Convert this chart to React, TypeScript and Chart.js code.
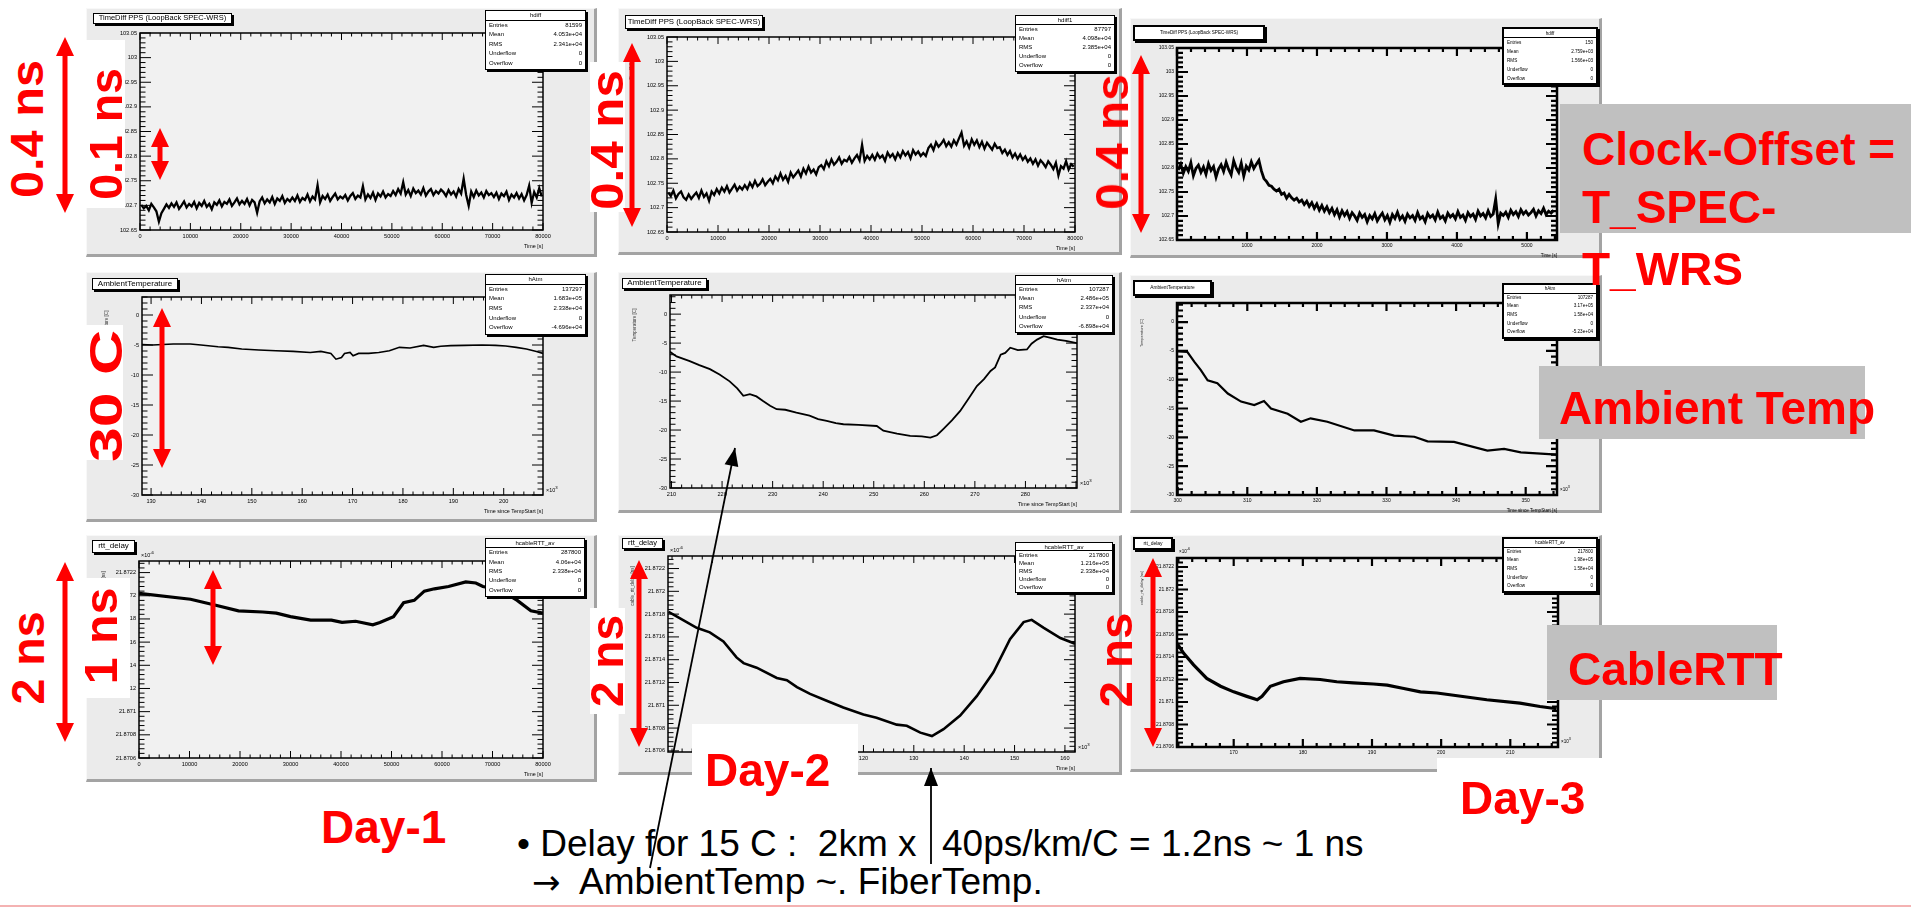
import React, { useEffect, useRef } from "react";
import { Chart, registerables } from "chart.js";

Chart.register(...registerables);

const FONT = "'Liberation Sans', Arial, Helvetica, sans-serif";
Chart.defaults.font.family = FONT;
Chart.defaults.color = "#000";

// ---------------- DATA ----------------
// Row 1 : TimeDiff PPS (LoopBack SPEC-WRS) [ns], histogram bins
const DAY1_DIFF_BIN_S = 500;
const DAY1_DIFF_NS = [
  102.701, 102.694, 102.699, 102.690, 102.703, 102.696, 102.688, 102.667, 102.684, 102.693,
  102.702, 102.695, 102.704, 102.697, 102.706, 102.693, 102.700, 102.708, 102.696, 102.703,
  102.698, 102.707, 102.694, 102.705, 102.699, 102.709, 102.697, 102.703, 102.692, 102.706,
  102.701, 102.710, 102.698, 102.707, 102.703, 102.712, 102.699, 102.706, 102.714, 102.702,
  102.709, 102.703, 102.713, 102.700, 102.711, 102.706, 102.685, 102.708, 102.716, 102.704,
  102.712, 102.706, 102.717, 102.703, 102.714, 102.709, 102.719, 102.705, 102.713, 102.708,
  102.716, 102.709, 102.720, 102.707, 102.715, 102.711, 102.722, 102.708, 102.718, 102.712,
  102.741, 102.706, 102.719, 102.713, 102.722, 102.709, 102.717, 102.724, 102.712, 102.718,
  102.714, 102.721, 102.710, 102.719, 102.725, 102.713, 102.720, 102.716, 102.739, 102.712,
  102.722, 102.715, 102.726, 102.711, 102.724, 102.718, 102.728, 102.716, 102.723, 102.719,
  102.729, 102.721, 102.733, 102.724, 102.747, 102.722, 102.731, 102.719, 102.734, 102.725,
  102.730, 102.722, 102.735, 102.720, 102.728, 102.733, 102.721, 102.729, 102.724, 102.732,
  102.727, 102.719, 102.731, 102.722, 102.728, 102.718, 102.733, 102.724, 102.754, 102.721,
  102.699, 102.728, 102.717, 102.730, 102.720, 102.726, 102.716, 102.729, 102.721, 102.725,
  102.717, 102.726, 102.713, 102.724, 102.719, 102.728, 102.711, 102.722, 102.716, 102.725,
  102.714, 102.723, 102.710, 102.721, 102.740, 102.705, 102.727, 102.716, 102.735, 102.718,
];

const DAY2_DIFF_BIN_S = 500;
const DAY2_DIFF_NS = [
  102.731, 102.724, 102.735, 102.719, 102.728, 102.733, 102.721, 102.716, 102.727, 102.718,
  102.725, 102.731, 102.720, 102.735, 102.722, 102.729, 102.714, 102.733, 102.726, 102.738,
  102.729, 102.741, 102.733, 102.744, 102.731, 102.739, 102.747, 102.735, 102.743, 102.737,
  102.746, 102.738, 102.751, 102.742, 102.755, 102.744, 102.749, 102.758, 102.746, 102.753,
  102.759, 102.750, 102.764, 102.756, 102.770, 102.757, 102.765, 102.753, 102.772, 102.762,
  102.769, 102.776, 102.764, 102.780, 102.770, 102.784, 102.772, 102.778, 102.768, 102.783,
  102.787, 102.779, 102.795, 102.785, 102.799, 102.788, 102.794, 102.803, 102.790, 102.798,
  102.795, 102.804, 102.792, 102.801, 102.808, 102.797, 102.829, 102.796, 102.806, 102.799,
  102.808, 102.798, 102.811, 102.802, 102.807, 102.796, 102.813, 102.804, 102.810, 102.799,
  102.812, 102.803, 102.816, 102.807, 102.814, 102.801, 102.818, 102.809, 102.815, 102.806,
  102.812, 102.806, 102.822, 102.829, 102.818, 102.834, 102.825, 102.831, 102.839, 102.826,
  102.834, 102.825, 102.838, 102.829, 102.842, 102.854, 102.827, 102.836, 102.823, 102.840,
  102.829, 102.838, 102.824, 102.835, 102.821, 102.833, 102.826, 102.819, 102.831, 102.822,
  102.824, 102.812, 102.819, 102.808, 102.816, 102.803, 102.811, 102.800, 102.809, 102.798,
  102.805, 102.794, 102.801, 102.790, 102.799, 102.786, 102.797, 102.791, 102.783, 102.795,
  102.788, 102.779, 102.792, 102.766, 102.785, 102.780, 102.795, 102.778, 102.789, 102.784,
];

const DAY3_DIFF_BIN_S = 36;
const DAY3_DIFF_NS = [
  102.796, 102.808, 102.789, 102.803, 102.793, 102.811, 102.784, 102.799, 102.806, 102.791,
  102.802, 102.787, 102.809, 102.795, 102.803, 102.781, 102.798, 102.807, 102.793, 102.812,
  102.797, 102.786, 102.815, 102.800, 102.791, 102.810, 102.783, 102.804, 102.796, 102.813,
  102.799, 102.808, 102.816, 102.794, 102.778, 102.772, 102.764, 102.762, 102.756, 102.752,
  102.756, 102.745, 102.748, 102.737, 102.745, 102.738, 102.733, 102.737, 102.729, 102.733,
  102.724, 102.731, 102.720, 102.728, 102.716, 102.725, 102.712, 102.722, 102.710, 102.719,
  102.707, 102.716, 102.703, 102.713, 102.698, 102.711, 102.701, 102.709, 102.695, 102.707,
  102.700, 102.691, 102.706, 102.697, 102.703, 102.688, 102.701, 102.694, 102.705, 102.690,
  102.699, 102.706, 102.692, 102.701, 102.687, 102.703, 102.695, 102.708, 102.693, 102.700,
  102.689, 102.704, 102.696, 102.701, 102.691, 102.707, 102.694, 102.699, 102.688, 102.705,
  102.697, 102.702, 102.692, 102.708, 102.695, 102.700, 102.690, 102.706, 102.698, 102.703,
  102.694, 102.709, 102.697, 102.702, 102.691, 102.707, 102.699, 102.704, 102.693, 102.710,
  102.700, 102.705, 102.696, 102.711, 102.699, 102.704, 102.735, 102.684, 102.706, 102.701,
  102.708, 102.697, 102.712, 102.703, 102.709, 102.699, 102.713, 102.704, 102.710, 102.702,
  102.707, 102.714, 102.700, 102.711, 102.705, 102.716, 102.703, 102.710, 102.706, 102.712,
];

// Row 2 : Ambient temperature [C] vs time since TempStart [x10^3 s]
const DAY1_TEMP_T = [
  128.2, 130.3, 134.4, 137.8, 139.9, 143.3, 145.3, 148.0, 151.4, 154.8, 158.2, 161.6, 163.7,
  165.7, 166.7, 167.8, 168.4, 169.5, 170.1, 171.2, 173.2, 175.2, 177.3, 179.3, 181.4, 184.1,
  186.1, 187.5, 189.5, 192.2, 195.7, 198.4, 200.4, 202.5, 204.5, 206.5, 207.8,
];
const DAY1_TEMP_C = [
  -4.94, -5.0, -4.83, -4.83, -5.0, -5.28, -5.39, -5.67, -5.84, -5.96, -6.07, -6.24, -6.07,
  -6.4, -7.36, -7.08, -6.4, -6.24, -6.8, -6.4, -6.4, -6.24, -5.96, -5.39, -5.51, -5.06,
  -5.39, -5.22, -5.11, -5.06, -5.0, -5.06, -5.17, -5.39, -5.67, -6.07, -6.4,
];

const DAY2_TEMP_T = [
  209.7, 211, 213.6, 215.5, 217.6, 219.5, 221.5, 223, 224.2, 225.5, 226.8, 228.1, 229.5, 230.8,
  232.5, 234.7, 237.3, 239, 240.7, 242.5, 244, 247, 250.6, 251.9, 253, 254.6, 257.2, 259.5,
  261.2, 262.5, 263.8, 265.5, 267.1, 268.8, 270.4, 271.8, 273.1, 274, 275.1, 276, 277, 278.5,
  280.3, 281.2, 282.3, 283.6, 285, 286.3, 288, 290.2,
];
const DAY2_TEMP_C = [
  -6.5, -7.3, -8.1, -8.8, -9.5, -10.4, -11.6, -12.8, -14.1, -13.8, -14.2, -15, -15.8, -16.4,
  -16.5, -17, -17.5, -18.1, -18.4, -18.8, -19, -19.1, -19.3, -20.1, -20.3, -20.6, -21, -21.1,
  -21.3, -20.9, -19.8, -18.3, -16.7, -14.5, -12.4, -11.2, -9.8, -9.2, -7, -6.7, -5.8, -6.2,
  -6.1, -5.1, -4.4, -3.8, -4.1, -4.4, -4.6, -5,
];

const DAY3_TEMP_T = [
  300.0, 301.4, 302.4, 303.3, 304.3, 305.7, 307.2, 309.1, 311.0, 312.4, 313.4, 315.8, 317.7,
  319.1, 321.5, 325.4, 328.2, 331.1, 334.0, 335.9, 339.7, 344.5, 346.9, 349.3, 354.5,
];
const DAY3_TEMP_C = [
  -5.1, -5.2, -6.9, -8.3, -10.1, -10.6, -12.4, -13.8, -14.4, -13.7, -15.0, -15.9, -17.3,
  -16.7, -17.3, -18.8, -18.8, -19.7, -19.9, -20.7, -20.8, -22.3, -22.0, -22.6, -23.0,
];

// Row 3 : rtt_delay (cable round trip) [ns]
const DAY1_RTT_T = [
  0, 10200, 15000, 19700, 24500, 27200, 30000, 34000, 38100, 40200, 42900, 46300, 47700,
  50400, 52400, 54500, 56500, 58500, 61300, 64700, 66700, 68100, 71500, 74900, 77600, 80000,
];
const DAY1_RTT_NS = [
  21.87202, 21.87197, 21.87192, 21.87187, 21.87186, 21.87185, 21.87182, 21.87179, 21.87179,
  21.87177, 21.87178, 21.87175, 21.87177, 21.87182, 21.87194, 21.87196, 21.87204, 21.87206,
  21.87208, 21.87212, 21.87211, 21.87208, 21.87205, 21.87196, 21.87187, 21.87185,
];

const DAY2_RTT_T = [
  81.3, 82.9, 86.9, 89.5, 92.2, 94.8, 96.2, 98.8, 102.8, 104.8, 106.8, 109.4, 112.7, 116.0,
  120.0, 122.6, 126.6, 128.6, 131.3, 133.6, 135.9, 139.2, 142.5, 145.8, 149.1, 151.8, 153.4,
  155.8, 159.1, 162.0,
];
const DAY2_RTT_NS = [
  21.87182, 21.87178, 21.87168, 21.87164, 21.87156, 21.87142, 21.87137, 21.87133, 21.87124,
  21.87122, 21.87116, 21.8711, 21.87104, 21.87098, 21.87092, 21.87089, 21.87083, 21.87082,
  21.87076, 21.87073, 21.87079, 21.87091, 21.87108, 21.87129, 21.87158, 21.87173, 21.87175,
  21.87168, 21.87159, 21.87154,
];

const DAY3_RTT_T = [
  161.8, 162.8, 164.2, 166.1, 168.1, 170.0, 171.9, 173.4, 174.1, 175.3, 177.2, 179.6, 182.5,
  184.9, 187.3, 190.2, 192.2, 194.6, 197.0, 199.4, 201.8, 206.6, 211.4, 214.3, 216.7,
];
const DAY3_RTT_NS = [
  21.87152, 21.87143, 21.87133, 21.87121, 21.87114, 21.87109, 21.87105, 21.87102, 21.87105,
  21.87114, 21.87118, 21.87121, 21.8712, 21.87118, 21.87117, 21.87116, 21.87115, 21.87112,
  21.87109, 21.87108, 21.87106, 21.87102, 21.87099, 21.87096, 21.87094,
];

// Tick values / labels
const TIME80K_TICKS = [0, 10000, 20000, 30000, 40000, 50000, 60000, 70000, 80000];
const TIME80K_LABELS = ["0", "10000", "20000", "30000", "40000", "50000", "60000", "70000", "80000"];
const DAY3_DIFF_T_TICKS = [1000, 2000, 3000, 4000, 5000];
const DAY3_DIFF_T_LABELS = ["1000", "2000", "3000", "4000", "5000"];
const DIFF_TICKS = [102.65, 102.7, 102.75, 102.8, 102.85, 102.9, 102.95, 103, 103.05];
const DIFF_LABELS = ["102.65", "102.7", "102.75", "102.8", "102.85", "102.9", "102.95", "103", "103.05"];
const TEMP_TICKS = [-30, -25, -20, -15, -10, -5, 0];
const TEMP_LABELS = ["-30", "-25", "-20", "-15", "-10", "-5", "0"];
const DAY1_TEMP_T_TICKS = [130, 140, 150, 160, 170, 180, 190, 200];
const DAY1_TEMP_T_LABELS = ["130", "140", "150", "160", "170", "180", "190", "200"];
const DAY2_TEMP_T_TICKS = [210, 220, 230, 240, 250, 260, 270, 280];
const DAY2_TEMP_T_LABELS = ["210", "220", "230", "240", "250", "260", "270", "280"];
const DAY3_TEMP_T_TICKS = [300, 310, 320, 330, 340, 350];
const DAY3_TEMP_T_LABELS = ["300", "310", "320", "330", "340", "350"];
const RTT_TICKS = [21.8706, 21.8708, 21.871, 21.8712, 21.8714, 21.8716, 21.8718, 21.872, 21.8722];
const RTT_LABELS = ["21.8706", "21.8708", "21.871", "21.8712", "21.8714", "21.8716", "21.8718", "21.872", "21.8722"];
const DAY2_RTT_T_TICKS = [90, 100, 110, 120, 130, 140, 150, 160];
const DAY2_RTT_T_LABELS = ["90", "100", "110", "120", "130", "140", "150", "160"];
const DAY3_RTT_T_TICKS = [170, 180, 190, 200, 210];
const DAY3_RTT_T_LABELS = ["170", "180", "190", "200", "210"];

const STAT_ROWS = ["Entries", "Mean", "RMS", "Underflow", "Overflow"];

// ---------------- helpers ----------------
type Pt = { x: number; y: number };
const binPoints = (vals: number[], bin: number): Pt[] => vals.map((v, i) => ({ x: (i + 0.5) * bin, y: v }));
const pairPoints = (ts: number[], vs: number[]): Pt[] => ts.map((t, i) => ({ x: t, y: vs[i] }));

type Box = { x: number; y: number; w: number; h: number };
type Panel = {
  key: string;
  frame: Box;
  plot: { l: number; t: number; r: number; b: number };
  points: Pt[];
  xMin: number; xMax: number; yMin: number; yMax: number;
  xTicks: number[]; xLabels: string[]; yTicks: number[]; yLabels: string[];
  lw: number; heavy: boolean;
  title: string; titleBox: Box & { fs: number };
  stats: Box & { name: string; values: string[] };
  xTitle: string; xExp: boolean; yExp: boolean; yTitle: string;
};

const PANELS: Panel[] = [
  {
    key: "p1", frame: { x: 86, y: 8, w: 511, h: 249 }, plot: { l: 140, t: 33, r: 543, b: 230 },
    points: binPoints(DAY1_DIFF_NS, DAY1_DIFF_BIN_S),
    xMin: 0, xMax: 80000, yMin: 102.65, yMax: 103.05,
    xTicks: TIME80K_TICKS, xLabels: TIME80K_LABELS, yTicks: DIFF_TICKS, yLabels: DIFF_LABELS,
    lw: 2.3, heavy: false,
    title: "TimeDiff PPS (LoopBack SPEC-WRS)", titleBox: { x: 93, y: 13, w: 139, h: 11, fs: 7.5 },
    stats: { x: 485, y: 10, w: 101, h: 60, name: "hdiff", values: ["81599", "4.053e+04", "2.341e+04", "0", "0"] },
    xTitle: "Time [s]", xExp: false, yExp: false, yTitle: "TimeDiff [ns]",
  },
  {
    key: "p2", frame: { x: 618, y: 8, w: 504, h: 247 }, plot: { l: 667, t: 37, r: 1075, b: 232 },
    points: binPoints(DAY2_DIFF_NS, DAY2_DIFF_BIN_S),
    xMin: 0, xMax: 80000, yMin: 102.65, yMax: 103.05,
    xTicks: TIME80K_TICKS, xLabels: TIME80K_LABELS, yTicks: DIFF_TICKS, yLabels: DIFF_LABELS,
    lw: 2.3, heavy: false,
    title: "TimeDiff PPS (LoopBack SPEC-WRS)", titleBox: { x: 625, y: 15, w: 138, h: 14, fs: 7.8 },
    stats: { x: 1015, y: 15, w: 100, h: 57, name: "hdiff1", values: ["87797", "4.098e+04", "2.385e+04", "0", "0"] },
    xTitle: "Time [s]", xExp: false, yExp: false, yTitle: "TimeDiff [ns]",
  },
  {
    key: "p3", frame: { x: 1130, y: 18, w: 472, h: 240 }, plot: { l: 1177, t: 48, r: 1557, b: 240 },
    points: binPoints(DAY3_DIFF_NS, DAY3_DIFF_BIN_S),
    xMin: 0, xMax: 5430, yMin: 102.65, yMax: 103.05,
    xTicks: DAY3_DIFF_T_TICKS, xLabels: DAY3_DIFF_T_LABELS, yTicks: DIFF_TICKS, yLabels: DIFF_LABELS,
    lw: 2.8, heavy: true,
    title: "TimeDiff PPS (LoopBack SPEC-WRS)", titleBox: { x: 1133, y: 25, w: 132, h: 16, fs: 4.6 },
    stats: { x: 1502, y: 27, w: 96, h: 58, name: "hdiff", values: ["150", "2.759e+03", "1.566e+03", "0", "0"] },
    xTitle: "Time [s]", xExp: false, yExp: false, yTitle: "TimeDiff [ns]",
  },
  {
    key: "p4", frame: { x: 86, y: 272, w: 511, h: 250 }, plot: { l: 142, t: 297, r: 543, b: 495 },
    points: pairPoints(DAY1_TEMP_T, DAY1_TEMP_C),
    xMin: 128.2, xMax: 207.8, yMin: -30, yMax: 3,
    xTicks: DAY1_TEMP_T_TICKS, xLabels: DAY1_TEMP_T_LABELS, yTicks: TEMP_TICKS, yLabels: TEMP_LABELS,
    lw: 1.6, heavy: false,
    title: "AmbientTemperature", titleBox: { x: 92, y: 278, w: 86, h: 12, fs: 8 },
    stats: { x: 485, y: 274, w: 101, h: 61, name: "hAtm", values: ["137297", "1.683e+05", "2.338e+04", "0", "-4.696e+04"] },
    xTitle: "Time since TempStart [s]", xExp: true, yExp: false, yTitle: "Temperature [C]",
  },
  {
    key: "p5", frame: { x: 618, y: 272, w: 504, h: 241 }, plot: { l: 670, t: 295, r: 1077, b: 488 },
    points: pairPoints(DAY2_TEMP_T, DAY2_TEMP_C),
    xMin: 209.7, xMax: 290.2, yMin: -30, yMax: 3.3,
    xTicks: DAY2_TEMP_T_TICKS, xLabels: DAY2_TEMP_T_LABELS, yTicks: TEMP_TICKS, yLabels: TEMP_LABELS,
    lw: 1.8, heavy: false,
    title: "AmbientTemperature", titleBox: { x: 622, y: 278, w: 85, h: 11, fs: 8 },
    stats: { x: 1015, y: 275, w: 98, h: 58, name: "hAtm", values: ["107287", "2.486e+05", "2.337e+04", "0", "-6.898e+04"] },
    xTitle: "Time since TempStart [s]", xExp: true, yExp: false, yTitle: "Temperature [C]",
  },
  {
    key: "p6", frame: { x: 1130, y: 275, w: 472, h: 238 }, plot: { l: 1177, t: 303, r: 1557, b: 495 },
    points: pairPoints(DAY3_TEMP_T, DAY3_TEMP_C),
    xMin: 299.9, xMax: 354.5, yMin: -30, yMax: 3.3,
    xTicks: DAY3_TEMP_T_TICKS, xLabels: DAY3_TEMP_T_LABELS, yTicks: TEMP_TICKS, yLabels: TEMP_LABELS,
    lw: 2.2, heavy: true,
    title: "AmbientTemperature", titleBox: { x: 1133, y: 280, w: 79, h: 16, fs: 4.8 },
    stats: { x: 1502, y: 283, w: 96, h: 56, name: "hAtm", values: ["107287", "3.17e+05", "1.58e+04", "0", "-5.23e+04"] },
    xTitle: "Time since TempStart [s]", xExp: true, yExp: false, yTitle: "Temperature [C]",
  },
  {
    key: "p7", frame: { x: 86, y: 535, w: 511, h: 247 }, plot: { l: 139, t: 561, r: 543, b: 758 },
    points: pairPoints(DAY1_RTT_T, DAY1_RTT_NS),
    xMin: 0, xMax: 80000, yMin: 21.8706, yMax: 21.8723,
    xTicks: TIME80K_TICKS, xLabels: TIME80K_LABELS, yTicks: RTT_TICKS, yLabels: RTT_LABELS,
    lw: 3.2, heavy: false,
    title: "rtt_delay", titleBox: { x: 92, y: 540, w: 43, h: 13, fs: 8 },
    stats: { x: 485, y: 538, w: 100, h: 59, name: "hcableRTT_av", values: ["287800", "4.06e+04", "2.338e+04", "0", "0"] },
    xTitle: "Time [s]", xExp: false, yExp: true, yTitle: "cable_rtt_delay [ns]",
  },
  {
    key: "p8", frame: { x: 618, y: 535, w: 504, h: 240 }, plot: { l: 668, t: 556, r: 1075, b: 752 },
    points: pairPoints(DAY2_RTT_T, DAY2_RTT_NS),
    xMin: 81.2, xMax: 162, yMin: 21.87059, yMax: 21.87231,
    xTicks: DAY2_RTT_T_TICKS, xLabels: DAY2_RTT_T_LABELS, yTicks: RTT_TICKS, yLabels: RTT_LABELS,
    lw: 2.6, heavy: false,
    title: "rtt_delay", titleBox: { x: 622, y: 538, w: 41, h: 11, fs: 7.5 },
    stats: { x: 1015, y: 542, w: 98, h: 51, name: "hcableRTT_av", values: ["217800", "1.216e+05", "2.338e+04", "0", "0"] },
    xTitle: "Time [s]", xExp: true, yExp: true, yTitle: "cable_rtt_delay [ns]",
  },
  {
    key: "p9", frame: { x: 1130, y: 535, w: 472, h: 237 }, plot: { l: 1177, t: 558, r: 1558, b: 747 },
    points: pairPoints(DAY3_RTT_T, DAY3_RTT_NS),
    xMin: 161.8, xMax: 216.9, yMin: 21.8706, yMax: 21.87228,
    xTicks: DAY3_RTT_T_TICKS, xLabels: DAY3_RTT_T_LABELS, yTicks: RTT_TICKS, yLabels: RTT_LABELS,
    lw: 3.2, heavy: true,
    title: "rtt_delay", titleBox: { x: 1133, y: 537, w: 40, h: 13, fs: 5 },
    stats: { x: 1502, y: 537, w: 96, h: 56, name: "hcableRTT_av", values: ["217800", "1.98e+05", "1.58e+04", "0", "0"] },
    xTitle: "Time [s]", xExp: true, yExp: true, yTitle: "cable_rtt_delay [ns]",
  },
];

// ---------------- annotations ----------------
const RED = "#ff0000";
const RED_V_TEXTS = [
  { text: "0.4 ns", cx: 27, cy: 129, k: 1.06 },
  { text: "0.1 ns", cx: 106, cy: 134, k: 1.01 },
  { text: "0.4 ns", cx: 607, cy: 140, k: 1.07 },
  { text: "0.4 ns", cx: 1112, cy: 142, k: 1.04 },
  { text: "30 C", cx: 106, cy: 396, k: 1.36 },
  { text: "2 ns", cx: 28, cy: 658, k: 1.01 },
  { text: "1 ns", cx: 101, cy: 636, k: 1.05 },
  { text: "2 ns", cx: 607, cy: 661, k: 1.0 },
  { text: "2 ns", cx: 1116, cy: 660, k: 1.03 },
];
const WHITE_BOXES: Box[] = [
  { x: 84, y: 40, w: 41, h: 168 },
  { x: 86, y: 325, w: 37, h: 135 },
  { x: 85, y: 578, w: 45, h: 120 },
  { x: 590, y: 62, w: 35, h: 150 },
  { x: 590, y: 608, w: 35, h: 106 },
  { x: 692, y: 724, w: 166, h: 68 },
  { x: 1437, y: 758, w: 190, h: 80 },
];
const GRAY_BOXES: Box[] = [
  { x: 1560, y: 104, w: 351, h: 129 },
  { x: 1539, y: 366, w: 326, h: 73 },
  { x: 1547, y: 625, w: 230, h: 75 },
];
const RED_H_TEXTS = [
  { text: "Clock-Offset =", x: 1582, base: 165 },
  { text: "T_SPEC-", x: 1582, base: 223 },
  { text: "T_WRS", x: 1582, base: 285 },
  { text: "Ambient Temp", x: 1559, base: 424 },
  { text: "CableRTT", x: 1568, base: 685 },
  { text: "Day-1", x: 321, base: 843 },
  { text: "Day-2", x: 705, base: 786 },
  { text: "Day-3", x: 1460, base: 814 },
];
const RED_ARROWS = [
  { x: 65, y1: 37, y2: 213 },
  { x: 160, y1: 128, y2: 180 },
  { x: 632, y1: 43, y2: 227 },
  { x: 1141, y1: 55, y2: 233 },
  { x: 162, y1: 308, y2: 468 },
  { x: 65, y1: 562, y2: 742 },
  { x: 213, y1: 570, y2: 665 },
  { x: 639, y1: 560, y2: 747 },
  { x: 1153, y1: 558, y2: 747 },
];
const BLACK_ARROWS = [
  { x1: 650, y1: 868, x2: 735, y2: 448 },
  { x1: 931, y1: 864, x2: 931, y2: 768 },
];
const NOTE_TEXTS = [
  { lead: "", text: "\u2022 Delay for 15 C :  2km x", x: 517, base: 856 },
  { lead: "", text: "40ps/km/C = 1.2ns ~ 1 ns", x: 942, base: 856 },
  { lead: "\u2192", text: "  AmbientTemp ~. FiberTemp.", x: 532, base: 894 },
];

// ---------------- chart pad ----------------
function makeRootFrame(p: Panel) {
  const o = {
    xSub: 5, ySub: 5,
    xMajor: p.heavy ? 8 : 7, xMinor: p.heavy ? 4 : 3.5,
    yMajor: 11, yMinor: p.heavy ? 6 : 5.5,
    tickLW: p.heavy ? 2.2 : 1, frameLW: p.heavy ? 2.5 : 1.5,
    plotBg: "#f1f1f1",
  };
  return {
    id: "rootFrame_" + p.key,
    beforeDatasetsDraw(chart: any) {
      const { ctx, chartArea: a } = chart;
      ctx.save();
      ctx.fillStyle = o.plotBg;
      ctx.fillRect(a.left, a.top, a.right - a.left, a.bottom - a.top);
      ctx.restore();
    },
    afterDatasetsDraw(chart: any) {
      const { ctx, chartArea: a, scales } = chart;
      ctx.save();
      ctx.strokeStyle = "#000";
      ctx.lineWidth = o.tickLW;
      const run = (scale: any, majors: number[], sub: number, horizontal: boolean) => {
        const step = (majors[1] - majors[0]) / sub;
        const lo = Math.min(scale.min, scale.max);
        const hi = Math.max(scale.min, scale.max);
        const kStart = Math.ceil((lo - majors[0]) / step - 1e-6);
        const kEnd = Math.floor((hi - majors[0]) / step + 1e-6);
        for (let k = kStart; k <= kEnd; k++) {
          const v = majors[0] + k * step;
          const major = ((k % sub) + sub) % sub === 0;
          const px = scale.getPixelForValue(v);
          ctx.beginPath();
          if (horizontal) {
            const L = major ? o.xMajor : o.xMinor;
            ctx.moveTo(px, a.bottom); ctx.lineTo(px, a.bottom - L);
            ctx.moveTo(px, a.top); ctx.lineTo(px, a.top + L);
          } else {
            const L = major ? o.yMajor : o.yMinor;
            ctx.moveTo(a.left, px); ctx.lineTo(a.left + L, px);
            ctx.moveTo(a.right, px); ctx.lineTo(a.right - L, px);
          }
          ctx.stroke();
        }
      };
      run(scales.x, p.xTicks, o.xSub, true);
      run(scales.y, p.yTicks, o.ySub, false);
      ctx.lineWidth = o.frameLW;
      ctx.strokeRect(a.left, a.top, a.right - a.left, a.bottom - a.top);
      ctx.restore();
    },
  };
}

function RootPad({ p }: { p: Panel }) {
  const ref = useRef<HTMLCanvasElement | null>(null);
  useEffect(() => {
    const canvas = ref.current;
    if (!canvas) return;
    const padTop = p.plot.t - p.frame.y;
    const padRight = p.frame.x + p.frame.w - p.plot.r;
    const yW = p.plot.l - p.frame.x;
    const xH = p.frame.y + p.frame.h - p.plot.b;
    const fs = p.heavy ? 5 : 5.6;
    const chart = new Chart(canvas, {
      type: "line",
      data: {
        datasets: [
          {
            data: p.points as any,
            borderColor: "#000",
            borderWidth: p.lw,
            pointRadius: 0,
            tension: 0,
            fill: false,
            borderJoinStyle: "miter",
          },
        ],
      },
      options: {
        animation: false,
        responsive: false,
        maintainAspectRatio: false,
        devicePixelRatio: 1,
        events: [],
        layout: { padding: { top: padTop, right: padRight, left: 0, bottom: 0 } },
        plugins: { legend: { display: false }, tooltip: { enabled: false } },
        scales: {
          x: {
            type: "linear",
            min: p.xMin,
            max: p.xMax,
            grid: { display: false, drawTicks: false, tickLength: 0 },
            border: { display: false },
            afterBuildTicks: (s: any) => {
              s.ticks = p.xTicks.map((v) => ({ value: v }));
            },
            afterFit: (s: any) => {
              s.height = xH;
            },
            ticks: {
              autoSkip: false,
              maxRotation: 0,
              minRotation: 0,
              padding: 3,
              color: "#000",
              font: { family: FONT, size: fs },
              callback: (_v: any, i: number) => p.xLabels[i],
            },
          },
          y: {
            type: "linear",
            min: p.yMin,
            max: p.yMax,
            grid: { display: false, drawTicks: false, tickLength: 0 },
            border: { display: false },
            afterBuildTicks: (s: any) => {
              s.ticks = p.yTicks.map((v) => ({ value: v }));
            },
            afterFit: (s: any) => {
              s.width = yW;
            },
            ticks: {
              autoSkip: false,
              padding: 3,
              color: "#000",
              font: { family: FONT, size: fs },
              callback: (_v: any, i: number) => p.yLabels[i],
            },
          },
        },
      } as any,
      plugins: [makeRootFrame(p) as any],
    });
    return () => chart.destroy();
  }, [p]);
  return (
    <canvas
      ref={ref}
      width={p.frame.w}
      height={p.frame.h}
      style={{ position: "absolute", left: p.frame.x, top: p.frame.y, width: p.frame.w, height: p.frame.h }}
    />
  );
}

function PadFrame({ p }: { p: Panel }) {
  return (
    <div
      style={{
        position: "absolute",
        left: p.frame.x,
        top: p.frame.y,
        width: p.frame.w,
        height: p.frame.h,
        background: "#ebebeb",
        borderRight: "3px solid #a3a3a3",
        borderBottom: "3px solid #a3a3a3",
        borderTop: "1px solid #f8f8f8",
        borderLeft: "1px solid #f8f8f8",
        boxSizing: "border-box",
      }}
    />
  );
}

function PadDecor({ p }: { p: Panel }) {
  const tb = p.titleBox;
  const s = p.stats;
  const bw = p.heavy ? 2 : 1.5;
  const rowH = (s.h - 2 * bw) / 6;
  const sf = p.heavy ? 4.6 : 6;
  const small = p.heavy ? 4.6 : 5.4;
  return (
    <>
      <div
        style={{
          position: "absolute", left: tb.x, top: tb.y, width: tb.w, height: tb.h,
          background: "#fff", border: `${bw}px solid #000`, boxShadow: "2px 2px 0 #000",
          boxSizing: "border-box", fontFamily: FONT, fontSize: tb.fs, lineHeight: `${tb.h - 2 * bw}px`,
          textAlign: "center", whiteSpace: "nowrap", overflow: "hidden", color: "#000",
        }}
      >
        {p.title}
      </div>
      <div
        style={{
          position: "absolute", left: s.x, top: s.y, width: s.w, height: s.h,
          background: "#fff", border: `${bw}px solid #000`, boxShadow: "2px 2px 0 #000",
          boxSizing: "border-box", fontFamily: FONT, fontSize: sf, lineHeight: `${rowH}px`, color: "#000",
          overflow: "hidden",
        }}
      >
        <div style={{ height: rowH, textAlign: "center", borderBottom: "1px solid #000", boxSizing: "border-box" }}>{s.name}</div>
        {STAT_ROWS.map((n, i) => (
          <div key={n} style={{ height: rowH, display: "flex", justifyContent: "space-between", padding: "0 3px" }}>
            <span>{n}</span>
            <span>{s.values[i]}</span>
          </div>
        ))}
      </div>
      <div
        style={{
          position: "absolute", left: p.plot.r - 120, top: p.plot.b + 13, width: 120, textAlign: "right",
          fontFamily: FONT, fontSize: small, color: "#000", whiteSpace: "nowrap",
        }}
      >
        {p.xTitle}
      </div>
      {p.xExp && (
        <div style={{ position: "absolute", left: p.plot.r + 3, top: p.plot.b - 10, fontFamily: FONT, fontSize: small, color: "#000" }}>
          ×10<sup style={{ fontSize: small * 0.8 }}>3</sup>
        </div>
      )}
      {p.yExp && (
        <div style={{ position: "absolute", left: p.plot.l + 2, top: p.plot.t - 11, fontFamily: FONT, fontSize: small, color: "#000" }}>
          ×10<sup style={{ fontSize: small * 0.8 }}>-6</sup>
        </div>
      )}
      <div
        style={{
          position: "absolute", left: p.plot.l - 36, top: p.plot.t + 30, fontFamily: FONT, fontSize: small * 0.85,
          color: "#333", whiteSpace: "nowrap", transform: "translate(-50%,-50%) rotate(-90deg)",
        }}
      >
        {p.yTitle}
      </div>
    </>
  );
}

function dblArrow(x: number, y1: number, y2: number) {
  const hw = 18, hl = 19, sw = 5;
  return `${x},${y1} ${x + hw / 2},${y1 + hl} ${x + sw / 2},${y1 + hl} ${x + sw / 2},${y2 - hl} ${x + hw / 2},${y2 - hl} ${x},${y2} ${x - hw / 2},${y2 - hl} ${x - sw / 2},${y2 - hl} ${x - sw / 2},${y1 + hl} ${x - hw / 2},${y1 + hl}`;
}

function headAt(x1: number, y1: number, x2: number, y2: number) {
  const L = 18, W = 7;
  const dx = x2 - x1, dy = y2 - y1;
  const len = Math.hypot(dx, dy);
  const ux = dx / len, uy = dy / len;
  const bx = x2 - ux * L, by = y2 - uy * L;
  return `${x2},${y2} ${bx - uy * W},${by + ux * W} ${bx + uy * W},${by - ux * W}`;
}

export default function App() {
  return (
    <div
      style={{
        position: "absolute", left: 0, top: 0, width: 1911, height: 909, overflow: "hidden",
        background: "#fff", fontFamily: FONT,
      }}
    >
      {PANELS.map((p) => (
        <PadFrame key={"f" + p.key} p={p} />
      ))}
      {PANELS.map((p) => (
        <RootPad key={"c" + p.key} p={p} />
      ))}
      {PANELS.map((p) => (
        <PadDecor key={"d" + p.key} p={p} />
      ))}
      {WHITE_BOXES.map((b, i) => (
        <div key={"w" + i} style={{ position: "absolute", left: b.x, top: b.y, width: b.w, height: b.h, background: "#fff" }} />
      ))}
      {GRAY_BOXES.map((b, i) => (
        <div key={"g" + i} style={{ position: "absolute", left: b.x, top: b.y, width: b.w, height: b.h, background: "#c0c0c0" }} />
      ))}
      {RED_V_TEXTS.map((t, i) => (
        <div
          key={"rv" + i}
          style={{
            position: "absolute", left: t.cx, top: t.cy, fontFamily: FONT, fontWeight: 700, fontSize: 46,
            lineHeight: 1, color: RED, whiteSpace: "nowrap",
            transform: `translate(-50%,-50%) rotate(-90deg) scaleX(${t.k})`,
          }}
        >
          {t.text}
        </div>
      ))}
      {RED_H_TEXTS.map((t, i) => (
        <div
          key={"rh" + i}
          style={{
            position: "absolute", left: t.x, top: t.base - 39, fontFamily: FONT, fontWeight: 700, fontSize: 46,
            lineHeight: 1, color: RED, whiteSpace: "nowrap",
          }}
        >
          {t.text}
        </div>
      ))}
      {NOTE_TEXTS.map((t, i) => (
        <div
          key={"n" + i}
          style={{
            position: "absolute", left: t.x, top: t.base - 31, fontFamily: FONT, fontSize: 37,
            lineHeight: 1, color: "#000", whiteSpace: "pre",
          }}
        >
          {t.lead && <span style={{ fontFamily: "'DejaVu Sans', sans-serif", fontSize: 34 }}>{t.lead}</span>}
          {t.text}
        </div>
      ))}
      <div style={{ position: "absolute", left: 0, top: 905, width: 1911, height: 2, background: "#f4b2b2" }} />
      <svg width={1911} height={909} style={{ position: "absolute", left: 0, top: 0, pointerEvents: "none" }}>
        {RED_ARROWS.map((a, i) => (
          <polygon key={"ra" + i} points={dblArrow(a.x, a.y1, a.y2)} fill={RED} />
        ))}
        {BLACK_ARROWS.map((a, i) => (
          <g key={"ba" + i}>
            <line x1={a.x1} y1={a.y1} x2={a.x2} y2={a.y2} stroke="#000" strokeWidth={1.8} />
            <polygon points={headAt(a.x1, a.y1, a.x2, a.y2)} fill="#000" />
          </g>
        ))}
      </svg>
    </div>
  );
}
